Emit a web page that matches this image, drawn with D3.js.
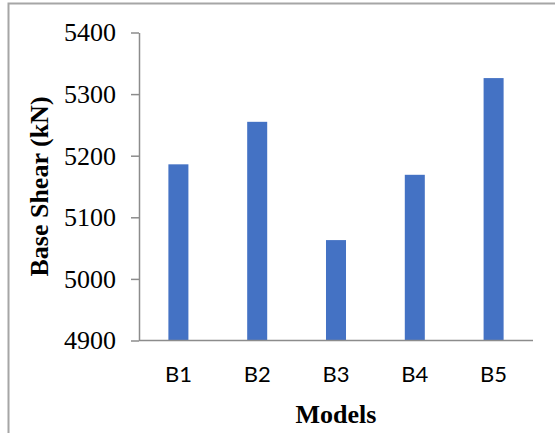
<!DOCTYPE html>
<html lang="en">
<head>
    <meta charset="UTF-8">
    <title>Base Shear by Model</title>
    <script src="https://d3js.org/d3.v7.min.js"></script>
    <style>
        body { margin: 0; background: #fff; }
        .title { font-family: 'Liberation Serif', 'Times New Roman', serif; font-size: 26px; font-weight: bold; fill: #000; }
        .axis path, .axis line { stroke: #8c8c8c; stroke-width: 1.5; }
    </style>
</head>
<body>
    <svg width="555" height="433"></svg>
    <script>
        const models = ["B1", "B2", "B3", "B4", "B5"];
        const baseShear = [5186, 5255, 5063, 5169, 5326];
        const yTicks = [4900, 5000, 5100, 5200, 5300, 5400];

        const data = models.map((m, i) => ({ model: m, value: baseShear[i] }));

        const svg = d3.select("svg");
        const plot = { left: 139, right: 533, top: 32.5, bottom: 340.5 };

        // outer frame (only left/top edges visible in the window)
        svg.append("rect")
            .attr("x", 8.5).attr("y", 3.5)
            .attr("width", 600).attr("height", 500)
            .attr("fill", "none")
            .attr("stroke", "#a6a6a6")
            .attr("stroke-width", 2);

        const x = d3.scaleBand()
            .domain(models)
            .range([plot.left, plot.right])
            .paddingInner(0.746)
            .paddingOuter(0.373);

        const y = d3.scaleLinear()
            .domain([4900, 5400])
            .range([plot.bottom, plot.top]);

        // bars
        svg.selectAll(".bar")
            .data(data)
            .enter().append("rect")
            .attr("class", "bar")
            .attr("x", d => x(d.model))
            .attr("width", x.bandwidth())
            .attr("y", d => y(d.value))
            .attr("height", d => y(4900) - y(d.value))
            .attr("fill", "#4472c4");

        // y axis
        svg.append("g")
            .attr("class", "axis")
            .attr("transform", `translate(${plot.left},0)`)
            .call(d3.axisLeft(y).tickValues(yTicks).tickFormat(d3.format("d")).tickSize(8).tickSizeOuter(0).tickPadding(15))
            .attr("font-family", "Liberation Serif, serif")
            .attr("font-size", 26)
            .selectAll("text").attr("fill", "#000");

        // x axis
        svg.append("g")
            .attr("class", "axis")
            .attr("transform", `translate(0,${plot.bottom})`)
            .call(d3.axisBottom(x).tickSize(0).tickPadding(26))
            .call(g => g.select(".domain").attr("d", `M${plot.left},0H${plot.right}`))
            .attr("font-family", "Lato, sans-serif")
            .attr("font-size", 22)
            .selectAll("text").attr("fill", "#000");

        // axis titles
        svg.append("text")
            .attr("class", "title")
            .attr("text-anchor", "middle")
            .attr("transform", `translate(48,186.5) rotate(-90)`)
            .text("Base Shear (kN)");

        svg.append("text")
            .attr("class", "title")
            .attr("text-anchor", "middle")
            .attr("x", (plot.left + plot.right) / 2)
            .attr("y", 423)
            .text("Models");
    </script>
</body>
</html>
